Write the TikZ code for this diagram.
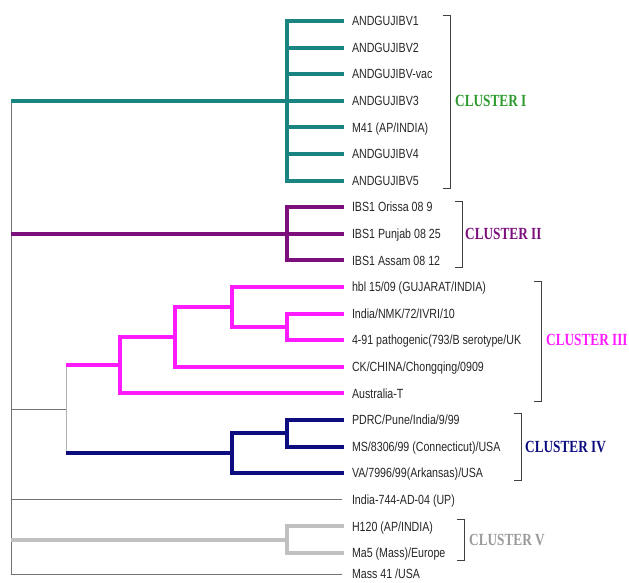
\documentclass[tikz,border=0pt]{standalone}
\usepackage{fontspec}
\usepackage{xcolor}
\newfontfamily\leaffont[FakeStretch=0.8]{Liberation Sans}
\newfontfamily\clusterfont[FakeStretch=0.78]{Liberation Serif}
\definecolor{cIcol}{HTML}{1A8580}
\definecolor{cIIcol}{HTML}{7D0F7D}
\definecolor{cIIIcol}{HTML}{FF1AFF}
\definecolor{cIVcol}{HTML}{0D0D80}
\definecolor{cVcol}{HTML}{C0C0C0}
\definecolor{labIcol}{HTML}{2E9A2E}
\definecolor{labVcol}{HTML}{9A9A9A}
\usetikzlibrary{positioning, calc}

\begin{document}
\begin{tikzpicture}[
  x=1pt, y=-1pt,
  leaf/.style={anchor=west, inner xsep=8pt, inner ysep=0pt, outer sep=0pt,
               text height=9.6pt, text depth=0.4pt, font=\leaffont\fontsize{13.3}{15}\selectfont, text=black!85},
  clab/.style={anchor=west, inner sep=0pt, font=\clusterfont\bfseries\fontsize{17}{19}\selectfont},
  br/.style={line width=1pt, black!75},
  thin/.style={line width=1pt, gray!90!black},
  thick/.style={line width=4pt, line cap=butt},
]
\useasboundingbox (0,0) rectangle (629,582);
% leaves
\node[leaf] (l1)  at (344,21)    {ANDGUJIBV1};
\node[leaf] (l2)  at (344,47.6)  {ANDGUJIBV2};
\node[leaf] (l3)  at (344,74.2)  {ANDGUJIBV-vac};
\node[leaf] (l4)  at (344,100.8) {ANDGUJIBV3};
\node[leaf] (l5)  at (344,127.4) {M41 (AP/INDIA)};
\node[leaf] (l6)  at (344,154)   {ANDGUJIBV4};
\node[leaf] (l7)  at (344,180.6) {ANDGUJIBV5};
\node[leaf] (l8)  at (344,207.2) {IBS1 Orissa 08 9};
\node[leaf] (l9)  at (344,233.8) {IBS1 Punjab 08 25};
\node[leaf] (l10) at (344,260.4) {IBS1 Assam 08 12};
\node[leaf] (l11) at (344,287)   {hbl 15/09 (GUJARAT/INDIA)};
\node[leaf] (l12) at (344,313.6) {India/NMK/72/IVRI/10};
\node[leaf] (l13) at (344,340.2) {4-91 pathogenic(793/B serotype/UK};
\node[leaf] (l14) at (344,366.8) {CK/CHINA/Chongqing/0909};
\node[leaf] (l15) at (344,393.4) {Australia-T};
\node[leaf] (l16) at (344,420)   {PDRC/Pune/India/9/99};
\node[leaf] (l17) at (344,446.6) {MS/8306/99 (Connecticut)/USA};
\node[leaf] (l18) at (344,473.2) {VA/7996/99(Arkansas)/USA};
\node[leaf] (l19) at (344,499.8) {India-744-AD-04 (UP)};
\node[leaf] (l20) at (344,526.4) {H120 (AP/INDIA)};
\node[leaf] (l21) at (344,553)   {Ma5 (Mass)/Europe};
\node[leaf] (l22) at (344,574)   {Mass 41 /USA};

% inner nodes
\coordinate (root)  at (11,100.8);
\coordinate (rootb) at (11,574);
\coordinate (cI)   at (287,100.8);
\coordinate (cII)  at (287,233.8);
\coordinate (n1)   at (287,326.9);
\coordinate (n2)   at (232,307);
\coordinate (n3)   at (175,337);
\coordinate (n4)   at (120,365);
\coordinate (m1)   at (287,433.3);
\coordinate (m2)   at (232,453.2);
\coordinate (n5)   at (66,409);
\coordinate (cV)   at (287,539.7);

% backbone
\draw[thin] (root) -- (rootb);
\draw[thin] (n5 -| root) -- (n5);
\draw[thin, gray!60] (n5 |- n4) -- (n5 |- m2);
\draw[thin] (l19.west -| root) -- ([xshift=-2pt]l19.west);
\draw[thin] (rootb) -- ([xshift=-2pt]l22.west);

% cluster I
\draw[thick, cIcol] (root) -- (cI);
\draw[thick, cIcol] (l1.west) -| (cI) |- (l7.west);
\foreach \k in {2,...,6} \draw[thick, cIcol] (cI |- l\k.west) -- (l\k.west);

% cluster II
\draw[thick, cIIcol] (cII -| root) -- (cII);
\draw[thick, cIIcol] (l8.west) -| (cII) |- (l10.west);
\draw[thick, cIIcol] (cII) -- (l9.west);

% cluster III
\draw[thick, cIIIcol] (n5 |- n4) -- (n4);
\draw[thick, cIIIcol] (n3) -| (n4) |- (l15.west);
\draw[thick, cIIIcol] (n2) -| (n3) |- (l14.west);
\draw[thick, cIIIcol] (l11.west) -| (n2) |- (n1);
\draw[thick, cIIIcol] (l12.west) -| (n1) |- (l13.west);

% cluster IV
\draw[thick, cIVcol] (n5 |- m2) -- (m2);
\draw[thick, cIVcol] (m1) -| (m2) |- (l18.west);
\draw[thick, cIVcol] (l16.west) -| (m1) |- (l17.west);

% cluster V
\draw[thick, cVcol] (cV -| root) -- (cV);
\draw[thick, cVcol] (l20.west) -| (cV) |- (l21.west);

% brackets and labels
\draw[br] (443,15) -- (450,15) -- (450,188) -- (443,188);
\node[clab, text=labIcol] (labI) at (455,100.8) {CLUSTER I};
\draw[br] (455,201) -- (462,201) -- (462,267) -- (455,267);
\node[clab, text=cIIcol] (labII) at (465,233.8) {CLUSTER II};
\draw[br] (534,281) -- (541,281) -- (541,401) -- (534,401);
\node[clab, text=cIIIcol] (labIII) at (546,340.2) {CLUSTER III};
\draw[br] (514,413) -- (521,413) -- (521,480) -- (514,480);
\node[clab, text=cIVcol] (labIV) at (525,446.6) {CLUSTER IV};
\draw[br] (457,519) -- (464,519) -- (464,560) -- (457,560);
\node[clab, text=labVcol] (labV) at (469,539.7) {CLUSTER V};
\end{tikzpicture}
\end{document}
